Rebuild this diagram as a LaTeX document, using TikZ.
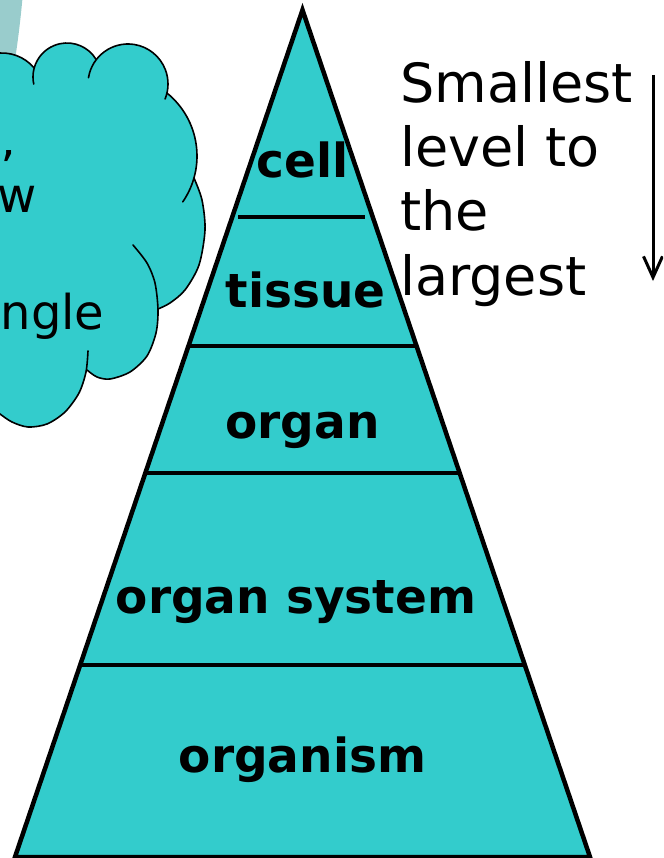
\documentclass[tikz,border=0pt]{standalone}
\usepackage{fontspec}
\setmainfont{DejaVu Sans}
\usetikzlibrary{arrows.meta,calc}
\definecolor{teal1}{HTML}{33CCCC}
\definecolor{arcgray}{HTML}{99CCCC}
\begin{document}
\begin{tikzpicture}[x=1pt,y=-1pt,
  levelline/.style={line width=4.5pt, line cap=butt},
  lab/.style={font=\fontsize{47}{56}\selectfont\bfseries, inner sep=0pt, anchor=base},
  side/.style={font=\fontsize{54}{64}\selectfont, inner sep=0pt, anchor=base west},
  cloudtxt/.style={font=\fontsize{48}{58}\selectfont, inner sep=0pt},
  cloudline/.style={line width=1.6pt, line cap=round}
]
\useasboundingbox (0,0) rectangle (663,858);
\clip (0,0) rectangle (663,858);

% light arc in the corner
\fill[arcgray] (-2,-2) -- (22.5,-2) .. controls (20.5,20) and (18,40) .. (15,60) -- (-2,60) -- cycle;

% cloud
\coordinate (cA) at (2,95);
\coordinate (cB) at (67,77);
\coordinate (cC) at (128,84);
\coordinate (cD) at (116,156);
\fill[teal1] ($(cA)+(-100:42)$) arc[start angle=-100,end angle=-40,radius=42]
  -- ($(cB)+(168:34)$) arc[start angle=168,end angle=329,radius=34]
  -- ($(cC)+(189:40)$) arc[start angle=189,end angle=382,radius=40]
  -- ($(cD)+(-51:81)$) arc[start angle=-51,end angle=34.5,radius=81]
  -- plot[smooth] coordinates {(194,178) (202,200) (205,230) (199,265) (185,290) (170,303) (158,309)}
  -- plot[smooth] coordinates {(133,245) (147,263) (155,283) (158,310) (156,333) (147,356) (130,372) (110,379) (97,377) (87,370)}
  -- plot[smooth] coordinates {(88,351) (86,372) (79,393) (65,412) (47,424) (28,427) (12,422) (0,414) (-5,410)}
  -- (-6,53) -- cycle;

\node[cloudtxt, anchor=base west] (quote) at (0,186) {’};
\node[cloudtxt, anchor=base east] (wtxt) at (37,213) {w};
\node[cloudtxt, anchor=base west] (ngle) at (0.5,329) {ngle};

\draw[cloudline] ($(cA)+(-100:42)$) arc[start angle=-100,end angle=-40,radius=42];
\draw[cloudline] ($(cB)+(168:34)$) arc[start angle=168,end angle=329,radius=34];
\draw[cloudline] ($(cC)+(189:40)$) arc[start angle=189,end angle=382,radius=40];
\draw[cloudline] ($(cD)+(-51:81)$) arc[start angle=-51,end angle=34.5,radius=81];
\draw[cloudline] plot[smooth] coordinates {(194,178) (202,200) (205,230) (199,265) (185,290) (170,303) (158,309)};
\draw[cloudline] plot[smooth] coordinates {(133,245) (147,263) (155,283) (158,310) (156,333) (147,356) (130,372) (110,379) (97,377) (87,370)};
\draw[cloudline] plot[smooth] coordinates {(88,351) (86,372) (79,393) (65,412) (47,424) (28,427) (12,422) (0,414) (-5,410)};

% pyramid
\coordinate (apex) at (302.5,10);
\coordinate (bl) at (15,857);
\coordinate (br) at (590,857);
\filldraw[fill=teal1, line width=4.5pt, line join=miter] (apex) -- (br) -- (bl) -- cycle;

\coordinate (s1) at (238,217);
\coordinate (s2) at (365,217);
\draw[levelline] (s1) -- (s2);
\draw[levelline] ($(apex)!0.3967!(bl)$) -- ($(apex)!0.3967!(br)$);
\draw[levelline] ($(apex)!0.5466!(bl)$) -- ($(apex)!0.5466!(br)$);
\draw[levelline] ($(apex)!0.7733!(bl)$) -- ($(apex)!0.7733!(br)$);

\node[lab] (cell) at (302.5,178) {cell};
\node[lab] (tissue) at (305.5,307) {tissue};
\node[lab] (organ) at (302.5,438) {organ};
\node[lab] (orgsys) at (296,613) {organ system};
\node[lab] (organism) at (302.5,772) {organism};

% side text
\node[side] (t1) at (400,103) {Smallest};
\node[side] (t2) at (400,167) {level to};
\node[side] (t3) at (400,231) {the};
\node[side] (t4) at (400,295) {largest};

\coordinate (arrtop) at (653,75);
\coordinate (arrbot) at (653,281);
\draw[line width=3pt, -{Straight Barb[length=21pt,width=19pt]}] (arrtop) -- (arrbot);
\end{tikzpicture}
\end{document}
